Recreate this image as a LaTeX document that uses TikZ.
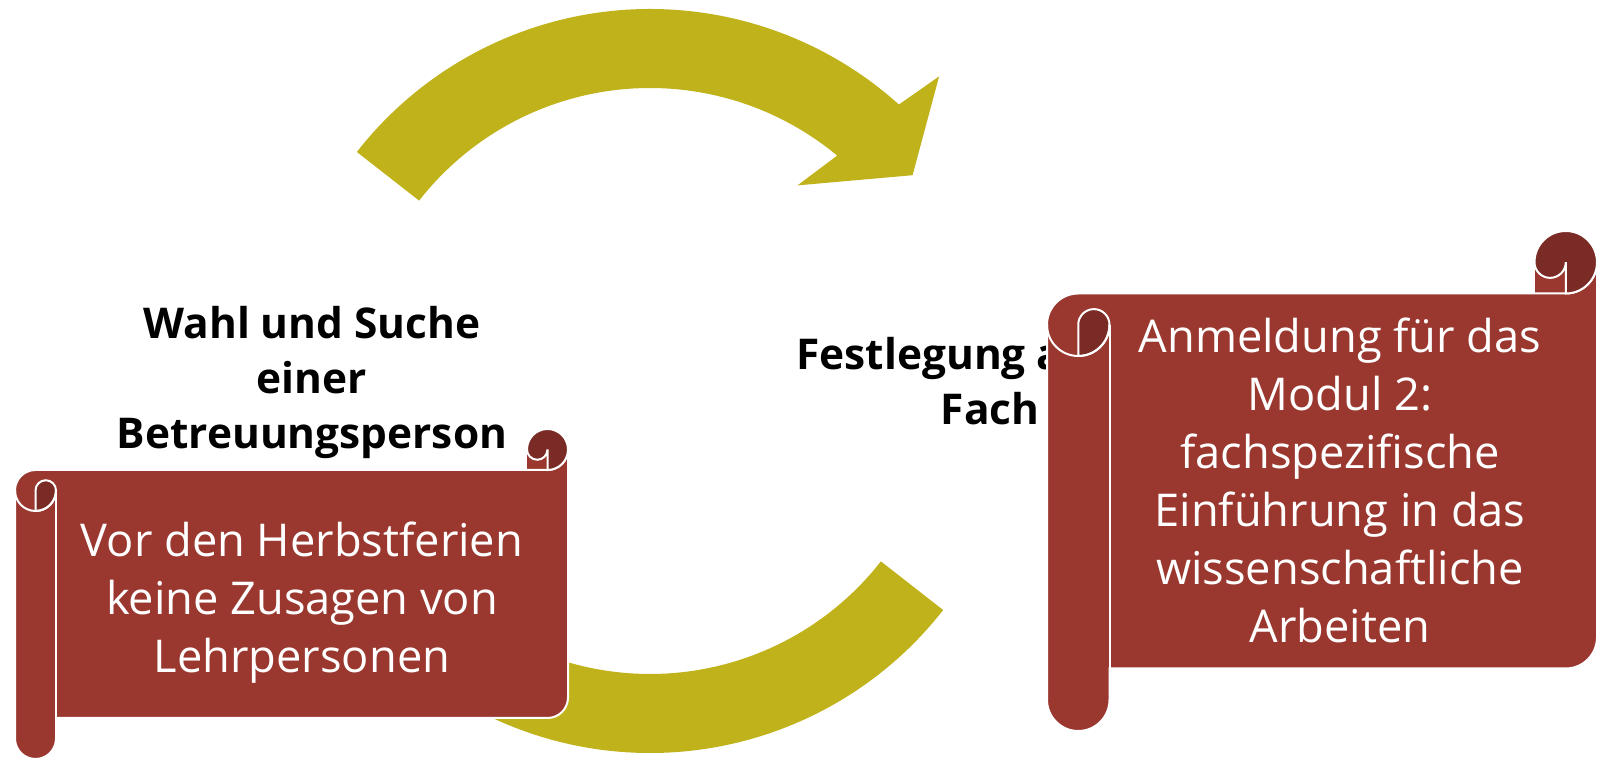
\documentclass[tikz,border=0pt]{standalone}
\usepackage{fontspec}
\setmainfont{Open Sans}
\usepackage{tikz}

\definecolor{cycleolive}{RGB}{192,178,26}
\definecolor{scrollred}{RGB}{154,56,48}
\definecolor{scrolldark}{RGB}{122,43,38}

% horizontal scroll: left, bottom, right, top, roll size
\newcommand{\drawscroll}[5]{%
  \pgfmathsetmacro{\scH}{#5/2}
  \pgfmathsetmacro{\scQ}{#5/4}
  \pgfmathsetmacro{\scLh}{#1+#5/2}
  \pgfmathsetmacro{\scLc}{#1+#5}
  \pgfmathsetmacro{\scRh}{#3-#5/2}
  \pgfmathsetmacro{\scRc}{#3-#5}
  \pgfmathsetmacro{\scTh}{#4-#5/2}
  \pgfmathsetmacro{\scTc}{#4-#5}
  \pgfmathsetmacro{\scTm}{#4-1.5*#5}
  \pgfmathsetmacro{\scBh}{#2+#5/2}
  \pgfmathsetmacro{\scBc}{#2+#5}
  % body
  \fill[scrollbody] (#3,\scTh) arc[start angle=0,end angle=-90,radius=\scH]
    -- (\scLh,\scTc) arc[start angle=90,end angle=180,radius=\scH]
    -- (#1,\scBh) arc[start angle=180,end angle=360,radius=\scH]
    -- (\scLc,\scBc) -- (\scRh,\scBc) arc[start angle=-90,end angle=0,radius=\scH]
    -- cycle;
  \fill[scrollbody] (\scRc,\scTh) rectangle (\scRh,\scTc);
  \draw[scrollline] (#3,\scTh) arc[start angle=0,end angle=-90,radius=\scH]
    -- (\scLh,\scTc) arc[start angle=90,end angle=180,radius=\scH]
    -- (#1,\scBh) arc[start angle=180,end angle=360,radius=\scH]
    -- (\scLc,\scBc) -- (\scRh,\scBc) arc[start angle=-90,end angle=0,radius=\scH]
    -- cycle;
  % curls
  \filldraw[scrollcurl] (\scRh,\scTc) arc[start angle=-90,end angle=180,radius=\scH]
    arc[start angle=180,end angle=360,radius=\scQ] -- cycle;
  \filldraw[scrollcurl] (\scLh,\scTm) arc[start angle=180,end angle=0,radius=\scQ]
    arc[start angle=0,end angle=-90,radius=\scH] -- cycle;
  \draw[scrollline] (#1,\scTm) arc[start angle=180,end angle=360,radius=\scH];
  \draw[scrollline] (\scLc,\scTm) -- (\scLc,\scBc);
}

\begin{document}
\begin{tikzpicture}[x=0.5pt,y=0.5pt,
    cyclearrow/.style={fill=cycleolive},
    scrollbody/.style={fill=scrollred},
    scrollcurl/.style={fill=scrolldark,draw=white,line width=1pt},
    scrollline/.style={draw=white,line width=1pt},
    steplabel/.style={align=center,font=\bfseries\fontsize{21.2}{27.5}\selectfont},
    scrolltext/.style={align=center,text=white,font=\fontsize{22.6}{29}\selectfont}]

    \useasboundingbox (0,0) rectangle (1597,760);

    % the two arrows of the cycle
    \foreach \a in {0,180} {
      \begin{scope}[shift={(650,379)},rotate=\a]
        \fill[cyclearrow] (142:372) arc[start angle=142,end angle=48,radius=372]
          -- (289.1,304.6) -- (262.6,205.8) -- (147.5,195.6)
          -- (50.3:293) arc[start angle=50.3,end angle=142,radius=293] -- cycle;
      \end{scope}
    }

    % step labels
    \node[steplabel] (wahl) at (312,378) {Wahl und Suche\\einer\\Betreuungsperson};
    \node[steplabel] (fach) at (990,379) {Festlegung auf ein\\Fach};

    % scrolls with notes
    \drawscroll{15}{1}{568}{331}{41}
    \node[scrolltext] (herbst) at (302,157)
      {Vor den Herbstferien\\keine Zusagen von\\Lehrpersonen};

    \drawscroll{1047}{29}{1597}{529}{62.5}
    \node[scrolltext] (anmeldung) at (1340,280)
      {Anmeldung für das\\Modul 2:\\fachspezifische\\Einführung in das\\wissenschaftliche\\Arbeiten};
  \end{tikzpicture}
\end{document}
